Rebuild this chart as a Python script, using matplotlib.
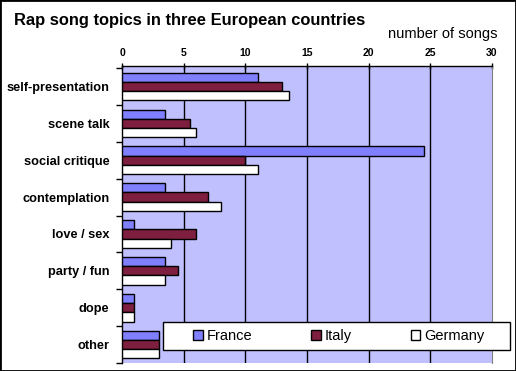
import numpy as np
import matplotlib
matplotlib.use("Agg")
import matplotlib.pyplot as plt
from matplotlib.patches import Rectangle

topics = ["self-presentation", "scene talk", "social critique", "contemplation",
          "love / sex", "party / fun", "dope", "other"]
france = [11, 3.5, 24.5, 3.5, 1, 3.5, 1, 3]
italy = [13, 5.5, 10, 7, 6, 4.5, 1, 3]
germany = [13.5, 6, 11, 8, 4, 3.5, 1, 3]
xticks = [0, 5, 10, 15, 20, 25, 30]

C_FR = "#8080ff"
C_IT = "#7f1f3f"
C_DE = "#ffffff"
C_BG = "#c0c0ff"

plt.rcParams["font.family"] = ["Liberation Sans", "DejaVu Sans"]

W, H = 516, 371
fig = plt.figure(figsize=(W / 100, H / 100), dpi=100)
ax = fig.add_axes([122 / W, 1 - 363 / H, (492 - 122) / W, (363 - 66) / H])
ax.set_facecolor(C_BG)

y = np.arange(len(topics))
h = 0.25
for off, vals, col, lab in ((-h, france, C_FR, "France"), (0, italy, C_IT, "Italy"),
                            (h, germany, C_DE, "Germany")):
    ax.barh(y + off, vals, h, color=col, edgecolor="black", lw=1, label=lab, zorder=3)

ax.set_xlim(0, 30)
ax.set_ylim(len(topics) - 0.5, -0.555)
ax.xaxis.tick_top()
ax.set_xticks(xticks)
ax.set_xticklabels([str(t) for t in xticks], fontsize=7.5, fontweight="bold")
ax.tick_params(axis="x", direction="inout", length=5, width=1, pad=3)
for t in xticks[1:-1]:
    ax.axvline(t, color="black", lw=1, zorder=1)

ax.set_yticks(y)
ax.set_yticklabels(topics, fontsize=9.2, fontweight="bold")
ax.tick_params(axis="y", length=0, pad=9)
ax.set_yticks(np.arange(len(topics) + 1) - 0.5, minor=True)
ax.tick_params(axis="y", which="minor", direction="out", length=4, width=1)

for s in ("top", "left"):
    ax.spines[s].set_color("black")
    ax.spines[s].set_linewidth(1)
ax.spines["right"].set_color("#808080")
ax.spines["bottom"].set_visible(False)

fig.text(14 / W, 1 - 20 / H, "Rap song topics in three European countries",
         fontsize=11.9, fontweight="bold", va="center", ha="left")
fig.text(497 / W, 1 - 34 / H, "number of songs", fontsize=10.5, va="center", ha="right")

# legend box, entries centred inside it
fig.patches.append(Rectangle((163 / W, 1 - 350 / H), (510 - 163) / W, 28 / H,
                             transform=fig.transFigure, facecolor="white",
                             edgecolor="black", lw=1, zorder=5))
leg = fig.legend(loc="center", bbox_to_anchor=(339 / W, 1 - 336 / H), ncol=3,
                 frameon=False, fontsize=10.5, handlelength=0.65, handleheight=0.65,
                 handletextpad=0.3, columnspacing=4.0, borderaxespad=0)
leg.set_zorder(6)

fig.patches.append(Rectangle((0, 0), 1, 1, transform=fig.transFigure, fill=False,
                             edgecolor="black", lw=2))

fig.savefig("out.png", dpi=100)
